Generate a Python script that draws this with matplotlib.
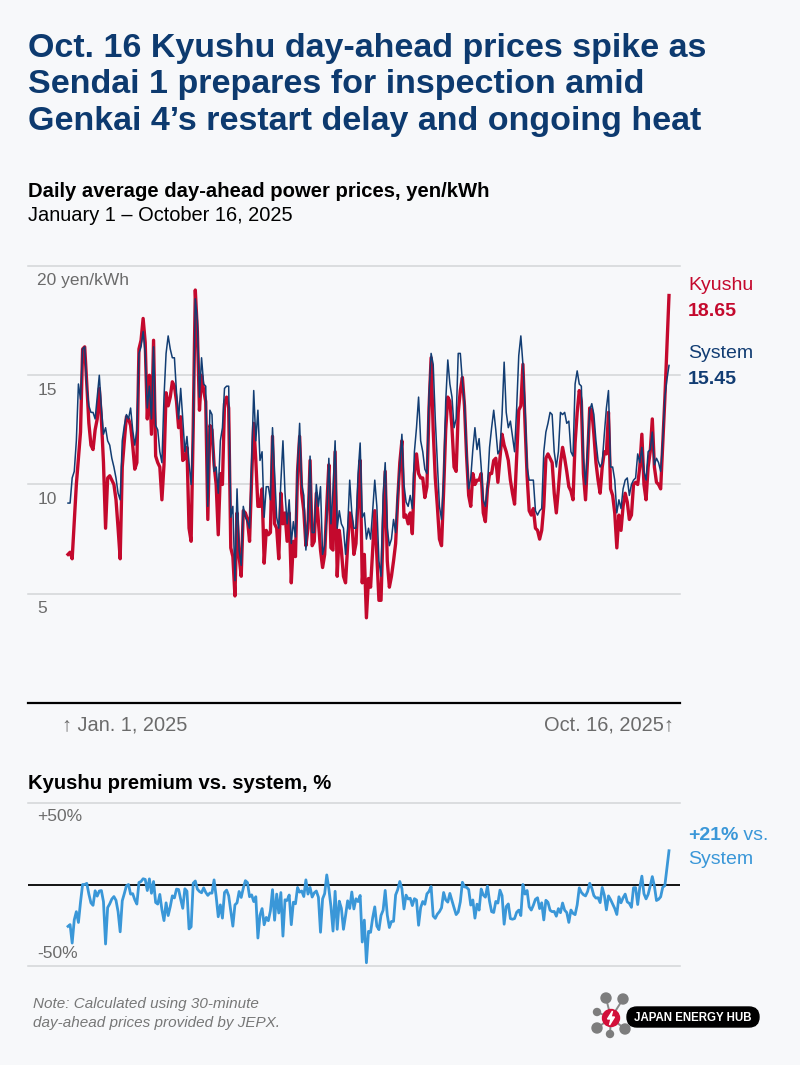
import matplotlib
matplotlib.use("Agg")
import matplotlib.pyplot as plt
import numpy as np
from matplotlib.patches import Circle, FancyBboxPatch, Polygon

plt.rcParams['font.family'] = ['Liberation Sans', 'DejaVu Sans']

# daily average day-ahead prices, yen/kWh, Jan 1 .. Oct 16 2025
kyushu = [
    6.8, 6.9, 6.6, 8.3, 10.0, 11.2, 12.4, 16.2, 16.3, 14.6,
    12.8, 11.8, 11.6, 12.5, 13.0, 14.4, 13.0, 11.0, 8.0, 10.3,
    10.4, 10.2, 10.0, 9.3, 8.0, 6.6, 10.8, 12.0, 13.1, 13.0,
    12.7, 11.8, 10.7, 11.0, 16.2, 16.6, 17.6, 16.5, 13.0, 15.0,
    12.3, 16.6, 11.3, 11.0, 10.8, 9.3, 10.9, 14.2, 13.6, 14.0,
    14.7, 14.5, 13.8, 12.6, 13.1, 11.1, 11.2, 11.7, 8.0, 7.4,
    12.6, 18.9, 17.0, 13.4, 15.0, 14.3, 13.8, 8.4, 12.7, 12.5,
    10.9, 10.0, 7.7, 10.5, 10.0, 13.7, 14.0, 13.5, 7.1, 6.7,
    4.9, 8.7, 6.7, 5.8, 8.8, 8.7, 8.4, 7.4, 10.3, 12.8,
    11.1, 9.0, 9.0, 9.8, 6.4, 7.9, 7.7, 7.8, 12.2, 8.2,
    8.0, 6.6, 9.6, 8.2, 8.7, 7.4, 8.7, 5.5, 7.4, 6.7,
    10.6, 12.2, 9.6, 8.8, 7.2, 8.0, 11.1, 7.2, 7.4, 9.6,
    8.3, 7.0, 6.2, 6.8, 9.0, 10.9, 7.1, 7.0, 11.5, 5.8,
    7.9, 7.0, 5.8, 5.5, 7.2, 8.7, 8.3, 6.8, 7.3, 9.4,
    11.1, 5.5, 6.8, 3.9, 5.7, 5.3, 7.0, 8.8, 6.7, 4.7,
    4.7, 8.0, 10.6, 6.5, 5.3, 5.8, 6.5, 7.3, 9.3, 11.0,
    12.0, 8.5, 8.6, 8.2, 8.7, 7.75, 10.5, 11.4, 10.5, 10.3,
    10.3, 9.4, 9.9, 13.5, 15.8, 12.5, 10.3, 9.0, 7.5, 7.2,
    9.7, 12.5, 14.0, 13.8, 12.6, 10.8, 10.6, 13.3, 14.3, 14.9,
    13.6, 11.3, 9.5, 9.0, 10.5, 10.0, 10.2, 10.2, 10.5, 8.7,
    8.3, 9.8, 10.5, 10.5, 11.1, 11.2, 10.1, 11.2, 12.3, 11.8,
    11.5, 11.1, 10.2, 9.6, 9.1, 11.2, 13.4, 13.6, 15.5, 12.8,
    10.4, 8.8, 8.6, 8.9, 8.0, 7.9, 7.5, 7.9, 9.0, 11.2,
    11.4, 11.2, 11.0, 9.6, 8.7, 9.8, 11.0, 11.7, 11.2, 10.6,
    9.9, 9.7, 9.3, 11.9, 13.3, 14.3, 13.8, 10.5, 9.3, 11.2,
    13.5, 13.4, 12.3, 11.0, 10.2, 9.6, 10.8, 11.5, 11.4, 13.3,
    9.8, 9.5, 8.7, 7.1, 8.6, 7.9, 9.0, 9.6, 9.2, 8.4,
    8.6, 10.0, 10.1, 10.0, 10.8, 12.3, 10.0, 9.3, 10.8, 11.5,
    13.0, 10.8, 10.1, 10.0, 9.8, 11.8, 13.9, 16.3, 18.65,
]

system = [
    9.15, 9.15, 10.3, 10.6, 12.0, 14.6, 13.9, 16.2, 16.3, 14.5,
    13.6, 13.3, 13.3, 13.0, 14.0, 15.0, 13.5, 12.3, 12.6, 12.0,
    11.8, 11.2, 10.8, 10.3, 9.6, 9.3, 12.0, 12.7, 13.2, 13.0,
    13.5, 12.5, 11.8, 12.5, 16.0, 16.3, 17.0, 16.0, 13.5, 14.5,
    13.0, 16.3, 12.7, 12.5, 11.5, 11.0, 14.0, 16.0, 16.8, 16.2,
    15.8, 15.8, 14.2, 13.0, 14.4, 13.0, 11.5, 12.2, 11.0, 10.0,
    12.5, 18.5, 17.5, 14.0, 15.8, 14.6, 14.5, 9.0, 13.4, 13.2,
    10.6, 10.8, 9.6, 12.0, 12.6, 14.4, 14.5, 14.5, 8.5, 9.0,
    5.6, 9.8, 7.0, 6.3, 9.0, 8.5, 8.3, 8.0, 11.0, 14.3,
    12.0, 13.4, 11.1, 11.5, 8.5, 9.9, 9.9, 9.3, 12.6, 10.5,
    8.5, 8.0, 10.1, 12.0, 9.6, 8.2, 9.3, 7.3, 8.3, 7.6,
    10.8, 12.8, 10.0, 9.5, 7.0, 8.5, 11.3, 7.8, 7.8, 10.0,
    9.0, 9.9, 6.8, 7.2, 8.5, 11.2, 8.2, 9.8, 12.0, 8.0,
    8.8, 8.2, 8.0, 6.8, 8.0, 10.2, 8.7, 8.0, 8.0, 10.5,
    11.9, 8.5, 8.7, 7.5, 8.0, 7.5, 8.8, 10.2, 9.0, 6.5,
    5.8, 9.5, 11.0, 8.0, 7.2, 7.5, 8.4, 7.8, 9.6, 10.8,
    12.3, 10.0, 9.2, 9.0, 9.5, 8.9, 11.5, 12.6, 14.0, 12.0,
    11.5, 10.7, 10.5, 14.1, 16.0, 15.5, 13.0, 11.0, 9.0, 8.4,
    10.2, 13.8, 15.7, 14.6, 14.0, 12.6, 13.0, 16.0, 16.0, 14.7,
    13.8, 11.5, 9.8, 10.3, 11.6, 12.6, 11.6, 12.1, 10.8, 9.3,
    9.0, 9.9, 11.7, 12.6, 13.4, 12.5, 11.4, 11.6, 13.2, 15.6,
    13.3, 12.6, 12.9, 12.2, 11.5, 13.5, 15.9, 16.8, 15.5, 13.6,
    10.8, 10.2, 10.2, 10.2, 8.8, 8.6, 8.8, 8.9, 11.5, 12.4,
    12.8, 13.3, 13.2, 11.5, 10.8, 11.5, 13.3, 13.2, 13.3, 12.8,
    12.9, 11.5, 11.3, 14.6, 15.2, 14.6, 14.5, 11.2, 10.0, 11.7,
    13.4, 13.7, 13.2, 12.0, 11.1, 10.8, 11.0, 12.3, 13.5, 14.3,
    10.8, 10.8, 10.2, 8.7, 9.3, 8.9, 9.8, 10.2, 10.3, 9.5,
    10.0, 10.2, 10.3, 11.4, 11.0, 11.7, 10.6, 10.2, 11.5, 11.6,
    12.4, 10.9, 11.2, 11.0, 10.6, 12.0, 14.0, 14.8, 15.45,
]

title_lines = ["Oct. 16 Kyushu day-ahead prices spike as",
               "Sendai 1 prepares for inspection amid",
               "Genkai 4\u2019s restart delay and ongoing heat"]
price_ticks = [5, 10, 15, 20]
price_tick_labels = ["5", "10", "15", "20 yen/kWh"]

k = np.array(kyushu)
s = np.array(system)
days = np.arange(len(k))
premium = (k / s - 1) * 100

BG = "#f7f8fa"
RED = "#c4092d"
NAVY = "#123d73"
TITLE = "#0d3a6f"
LIGHTBLUE = "#3a97d8"
GRID = "#d3d5d8"
GREY = "#6b6b6b"

W, H = 800, 1065
fig = plt.figure(figsize=(W / 100, H / 100), dpi=100)
fig.patch.set_facecolor(BG)


def fx(px):
    return px / W


def fy(py):
    return 1 - py / H


for i, line in enumerate(title_lines):
    fig.text(fx(28), fy(57 + i * 36.5), line, fontsize=24.5, fontweight="bold",
             color=TITLE, va="baseline")

fig.text(fx(28), fy(197), "Daily average day-ahead power prices, yen/kWh",
         fontsize=14.6, fontweight="bold", color="black", va="baseline")
fig.text(fx(28), fy(221), "January 1 \u2013 October 16, 2025",
         fontsize=14.4, color="black", va="baseline")

# x mapping: day 0 at 68 px, last day at 669 px, axes spans 28..680 px
ppd = (669 - 68) / (len(k) - 1)
xlim = (-(68 - 28) / ppd, len(k) - 1 + (680 - 669) / ppd)

# main price chart
ax = fig.add_axes([fx(28), fy(703), fx(680) - fx(28), fy(266) - fy(703)])
ax.set_facecolor(BG)
ax.set_xlim(*xlim)
ax.set_ylim(0, 20)
ax.axis("off")
for v in price_ticks:
    ax.axhline(v, color=GRID, lw=1.1, zorder=1, clip_on=False)
ax.axhline(0, color="black", lw=1.6, zorder=4, clip_on=False)
for v, lab in zip(price_ticks, price_tick_labels):
    ax.text(0.014, v - 0.68, lab, transform=ax.get_yaxis_transform(),
            fontsize=12.5, color=GREY, va="center", ha="left")
ax.plot(days, k, color=RED, lw=2.4, zorder=3, solid_joinstyle="round")
ax.plot(days, s, color=NAVY, lw=1.1, zorder=3.5)

fig.text(fx(688), fy(286), "Kyushu", fontsize=14, color=RED, va="center")
fig.text(fx(688), fy(311), "%.2f" % kyushu[-1], fontsize=14, color=RED,
         fontweight="bold", va="center")
fig.text(fx(688), fy(354), "System", fontsize=14, color=NAVY, va="center")
fig.text(fx(688), fy(379), "%.2f" % system[-1], fontsize=14, color=NAVY,
         fontweight="bold", va="center")

fig.text(fx(62), fy(725), "\u2191 Jan. 1, 2025", fontsize=14.4, color=GREY,
         va="center", ha="left")
fig.text(fx(674), fy(725), "Oct. 16, 2025\u2191", fontsize=14.4, color=GREY,
         va="center", ha="right")

# premium chart
fig.text(fx(28), fy(789), "Kyushu premium vs. system, %", fontsize=14.6,
         fontweight="bold", color="black", va="baseline")
ax2 = fig.add_axes([fx(28), fy(966), fx(680) - fx(28), fy(803) - fy(966)])
ax2.set_facecolor(BG)
ax2.set_xlim(*xlim)
ax2.set_ylim(-50, 50)
ax2.axis("off")
ax2.axhline(50, color=GRID, lw=1.1, clip_on=False)
ax2.axhline(-50, color=GRID, lw=1.1, clip_on=False)
ax2.axhline(0, color="black", lw=1.3, zorder=2)
ax2.text(0.014, 42, "+50%", transform=ax2.get_yaxis_transform(),
         fontsize=12.5, color=GREY, va="center")
ax2.text(0.014, -42.5, "-50%", transform=ax2.get_yaxis_transform(),
         fontsize=12.5, color=GREY, va="center")
ax2.plot(days, premium, color=LIGHTBLUE, lw=2.0, zorder=3)

t = fig.text(fx(688), fy(835), "+%d%%" % round(premium[-1]), fontsize=14,
             fontweight="bold", color=LIGHTBLUE, va="center")
fig.canvas.draw()
bb = t.get_window_extent()
fig.text(bb.x1 / W, fy(835), " vs.", fontsize=14, color=LIGHTBLUE, va="center")
fig.text(fx(688), fy(860), "System", fontsize=14, color=LIGHTBLUE, va="center")

fig.text(fx(33), fy(1004), "Note: Calculated using 30-minute", fontsize=11,
         style="italic", color="#777777", va="center")
fig.text(fx(33), fy(1023), "day-ahead prices provided by JEPX.", fontsize=11,
         style="italic", color="#777777", va="center")

# logo
lg = fig.add_axes([fx(585), fy(1045), fx(765) - fx(585), fy(990) - fy(1045)])
lg.set_xlim(585, 765)
lg.set_ylim(1045, 990)
lg.axis("off")
hub = (611, 1018)
dots = [(606, 998, 5), (623, 999, 5), (597, 1012, 3.5), (597, 1028, 5),
        (610, 1034, 3.5), (625, 1029, 5)]
for dx, dy, r in dots:
    lg.plot([hub[0], dx], [hub[1], dy], color="#8a8a8a", lw=1.4, zorder=1)
    lg.add_patch(Circle((dx, dy), r, color="#7d7d7d", zorder=2))
lg.add_patch(Circle(hub, 8.5, color="#d2103a", zorder=3))
lg.add_patch(Polygon([(612.5, 1011), (607.5, 1019), (611, 1019), (609.5, 1025),
                      (614.5, 1017), (611, 1017)], closed=True, color="white",
                     zorder=4))
lg.add_patch(FancyBboxPatch((627, 1007), 132, 20,
                            boxstyle="round,pad=0,rounding_size=10",
                            color="black", zorder=2))
lg.text(693, 1017.5, "JAPAN ENERGY HUB", color="white", fontsize=8.3,
        fontweight="bold", ha="center", va="center", zorder=5)

fig.savefig("out.png", dpi=100, facecolor=BG)
